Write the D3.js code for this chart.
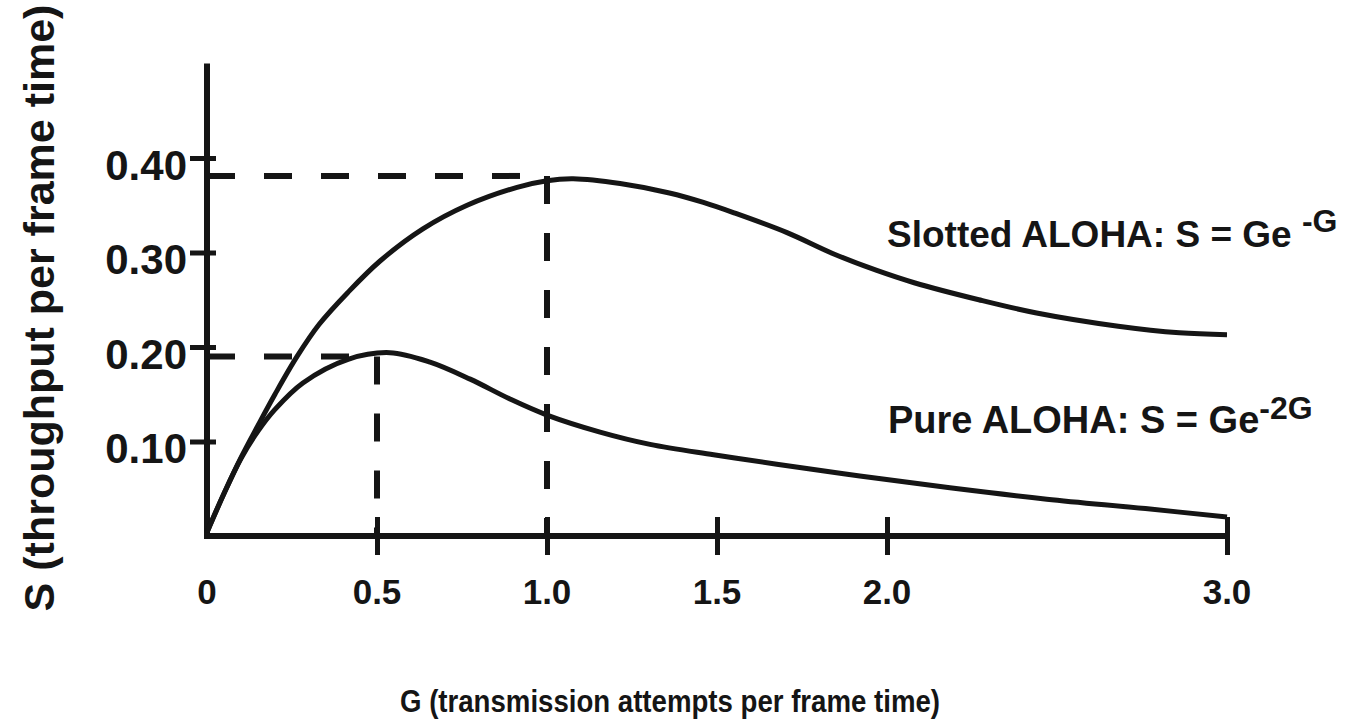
<!DOCTYPE html>
<html lang="en">

<head>
    <meta charset="UTF-8">
    <title>ALOHA throughput</title>
    <script src="https://cdn.jsdelivr.net/npm/d3@7"></script>
</head>
<style>
    body {
        margin: 0;
        background: #fff;
    }

    text {
        font-family: "Liberation Sans", Arial, Helvetica, sans-serif;
        font-weight: bold;
        fill: #151515;
    }
</style>

<body>
    <script>
        // values
        const slottedG = [0, 0.05, 0.1, 0.15, 0.2, 0.265, 0.33, 0.415, 0.509, 0.635, 0.765, 0.912, 1.0, 1.077, 1.215, 1.36, 1.46, 1.55, 1.706, 1.84, 1.97, 2.08, 2.27, 2.44, 2.68, 2.86, 3.0]
        const slottedS = [0.004, 0.045, 0.083, 0.117, 0.150, 0.190, 0.224, 0.258, 0.291, 0.325, 0.350, 0.369, 0.376, 0.378, 0.373, 0.363, 0.353, 0.342, 0.321, 0.299, 0.281, 0.268, 0.250, 0.236, 0.222, 0.215, 0.213]

        const pureG = [0, 0.05, 0.1, 0.15, 0.2, 0.282, 0.415, 0.538, 0.656, 0.774, 0.891, 1.0, 1.156, 1.303, 1.49, 1.676, 1.92, 2.185, 2.47, 2.76, 3.0]
        const pureS = [0.004, 0.045, 0.082, 0.111, 0.134, 0.162, 0.187, 0.194, 0.184, 0.166, 0.145, 0.128, 0.110, 0.097, 0.086, 0.076, 0.0635, 0.051, 0.039, 0.029, 0.020]

        // dashed guide lines to the peaks
        const peakG = [0.5, 1.0]
        const peakS = [0.190, 0.381]

        const xTicks = [0.5, 1.0, 1.5, 2.0, 3.0]
        const xTickLabels = ["0", "0.5", "1.0", "1.5", "2.0", "3.0"]
        const xLabelValues = [0, 0.5, 1.0, 1.5, 2.0, 3.0]
        const yTicks = [0.1, 0.2, 0.3, 0.4]
        const yTickLabels = ["0.10", "0.20", "0.30", "0.40"]

        const width = 1348
        const height = 728
        const ink = "#151515"

        const svg = d3.select("body")
            .append("svg")
            .attr("width", width)
            .attr("height", height)

        const x = d3.scaleLinear()
            .domain([0, 3])
            .range([207, 1227])

        const y = d3.scaleLinear()
            .domain([0, 0.5])
            .range([536, 63.5])

        // y axis, ticks cross the line
        const yAxis = svg.append("g")
            .attr("transform", `translate(${x(0)},0)`)
            .call(d3.axisLeft(y).tickValues(yTicks).tickSizeOuter(0).tickFormat((d, i) => yTickLabels[i]))
        yAxis.select(".domain").attr("stroke", ink).attr("stroke-width", 6)
            .attr("d", `M0,${y(0) + 3}V${y(0.5)}`)
        yAxis.selectAll(".tick line").attr("stroke", ink).attr("stroke-width", 5)
            .attr("x1", -17).attr("x2", 9)
        yAxis.selectAll(".tick text")
            .attr("x", -20).attr("dy", "0.5em")
            .style("font-size", "42px").style("font-family", null).attr("fill", ink)

        // x axis
        const xAxis = svg.append("g")
            .attr("transform", `translate(0,${y(0)})`)
            .call(d3.axisBottom(x).tickValues(xTicks).tickSizeOuter(0).tickFormat(""))
        xAxis.select(".domain").attr("stroke", ink).attr("stroke-width", 6)
            .attr("d", `M${x(0) - 3},0H${x(3)}`)
        xAxis.selectAll(".tick line").attr("stroke", ink).attr("stroke-width", 5)
            .attr("y1", -19).attr("y2", 19)

        svg.append("g")
            .selectAll("text")
            .data(xLabelValues)
            .join("text")
            .attr("x", d => x(d))
            .attr("y", 604)
            .attr("text-anchor", "middle")
            .style("font-size", "35px")
            .text((d, i) => xTickLabels[i])

        // dashed guides
        const dash = "28,29"
        peakG.forEach((g, i) => {
            svg.append("line")
                .attr("x1", x(0)).attr("x2", x(g))
                .attr("y1", y(peakS[i])).attr("y2", y(peakS[i]))
                .attr("stroke", ink).attr("stroke-width", 6)
                .attr("stroke-dasharray", dash)
            svg.append("line")
                .attr("x1", x(g)).attr("x2", x(g))
                .attr("y1", y(peakS[i])).attr("y2", y(0))
                .attr("stroke", ink).attr("stroke-width", 6)
                .attr("stroke-dasharray", dash)
        })

        // curves
        const line = d3.line()
            .x(d => x(d[0]))
            .y(d => y(d[1]))
            .curve(d3.curveCatmullRom.alpha(0.5))

        svg.append("path")
            .datum(slottedG.map((g, i) => [g, slottedS[i]]))
            .attr("d", line)
            .attr("fill", "none")
            .attr("stroke", ink)
            .attr("stroke-width", 5)

        svg.append("path")
            .datum(pureG.map((g, i) => [g, pureS[i]]))
            .attr("d", line)
            .attr("fill", "none")
            .attr("stroke", ink)
            .attr("stroke-width", 5)

        // formula labels
        const slotted = svg.append("text")
            .attr("x", 887).attr("y", 247)
            .style("font-size", "37px")
        slotted.append("tspan").text("Slotted ALOHA: S = Ge ")
        slotted.append("tspan").attr("dy", -15).style("font-size", "32px").text("-G")

        const pure = svg.append("text")
            .attr("x", 888).attr("y", 433)
            .style("font-size", "38px")
        pure.append("tspan").text("Pure ALOHA: S = Ge")
        pure.append("tspan").attr("dy", -14).style("font-size", "32px").text("-2G")

        // axis titles
        svg.append("text")
            .attr("transform", `translate(54,${308}) rotate(-90)`)
            .attr("text-anchor", "middle")
            .style("font-size", "43px")
            .text("S (throughput per frame time)")

        svg.append("text")
            .attr("x", 400).attr("y", 712)
            .style("font-size", "31px")
            .attr("textLength", 540)
            .attr("lengthAdjust", "spacingAndGlyphs")
            .text("G (transmission attempts per frame time)")
    </script>
</body>

</html>
